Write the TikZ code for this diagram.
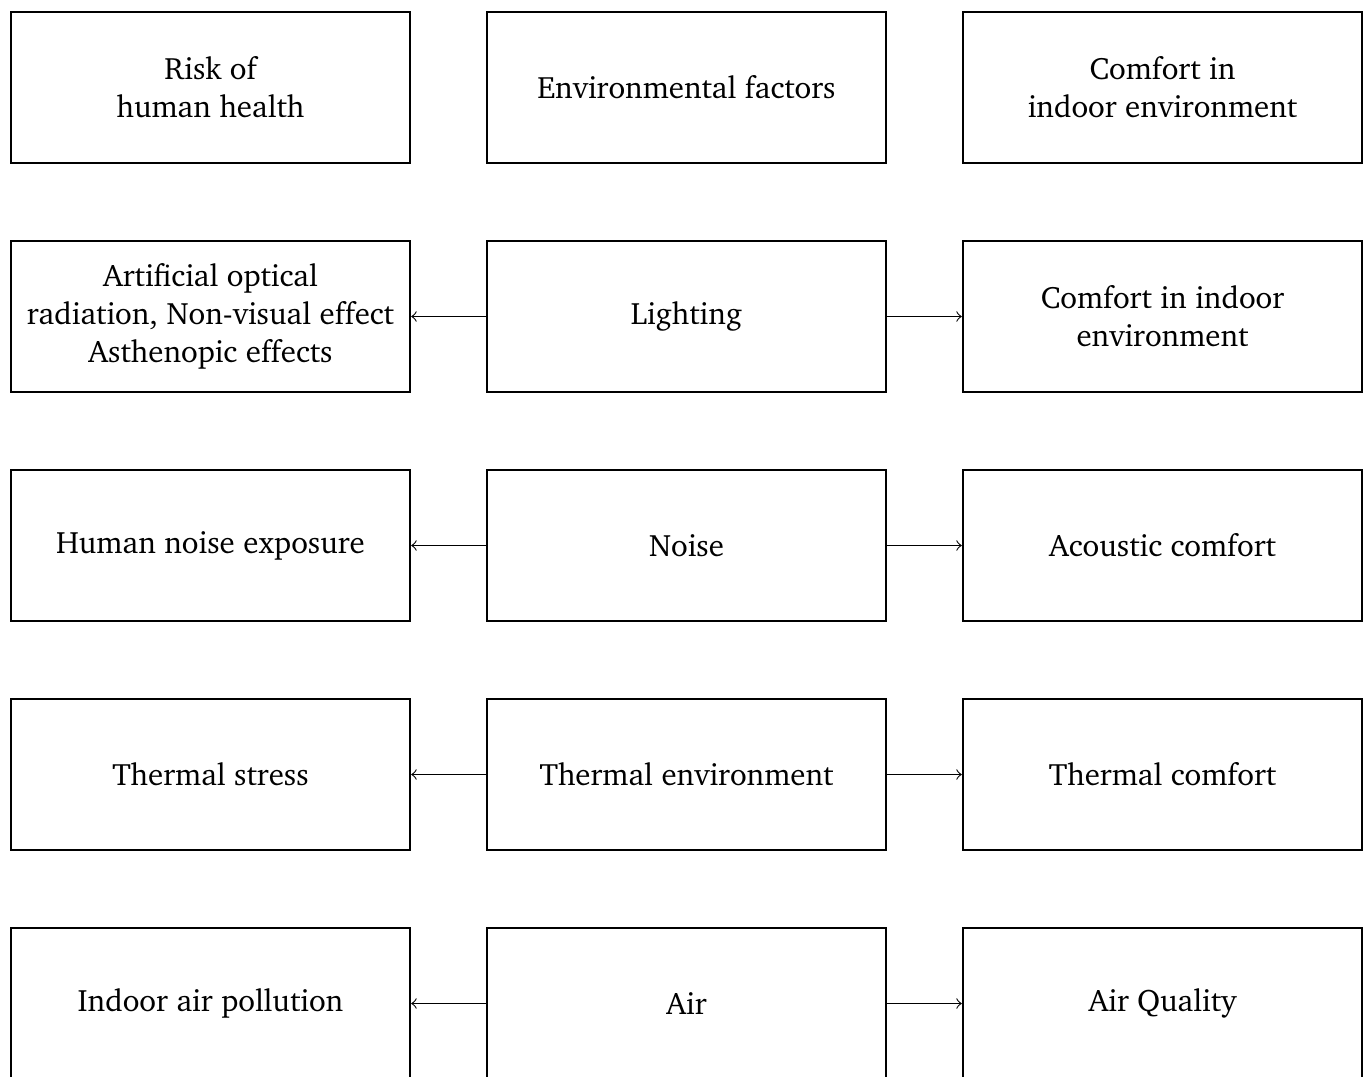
\documentclass[tikz,border=0pt]{standalone}
\usepackage[T1]{fontenc}
\usepackage{charter}
\begin{document}
\begin{tikzpicture}[x=0.3155pt,y=-0.3155pt,
  box/.style={draw, line width=0.75pt, minimum width=125.88pt, minimum height=47.64pt,
    align=center, inner sep=0pt, font=\fontsize{9.76pt}{12pt}\selectfont},
  conn/.style={->, line width=0.35pt}]
  \useasboundingbox (0,0) rectangle (1370,1077);
  % row 1: headings
  \node[box] (h1) at (210.5,87.5)  {Risk of\\human health};
  \node[box] (h2) at (686.5,87.5)  {Environmental factors};
  \node[box] (h3) at (1162.5,87.5) {Comfort in\\indoor environment};
  % row 2: lighting
  \node[box] (l1) at (210.5,316.5)  {Artificial optical\\radiation, Non-visual effect\\Asthenopic effects};
  \node[box] (l2) at (686.5,316.5)  {Lighting};
  \node[box] (l3) at (1162.5,316.5) {Comfort in indoor\\environment};
  % row 3: noise
  \node[box] (n1) at (210.5,545.5)  {Human noise exposure};
  \node[box] (n2) at (686.5,545.5)  {Noise};
  \node[box] (n3) at (1162.5,545.5) {Acoustic comfort};
  % row 4: thermal
  \node[box] (t1) at (210.5,774.5)  {Thermal stress};
  \node[box] (t2) at (686.5,774.5)  {Thermal environment};
  \node[box] (t3) at (1162.5,774.5) {Thermal comfort};
  % row 5: air
  \node[box] (a1) at (210.5,1003.5)  {Indoor air pollution};
  \node[box] (a2) at (686.5,1003.5)  {Air};
  \node[box] (a3) at (1162.5,1003.5) {Air Quality};
  % connectors
  \foreach \r in {l,n,t,a}{
    \draw[conn] (\r2.west) -- (\r1.east);
    \draw[conn] (\r2.east) -- (\r3.west);
  }
\end{tikzpicture}
\end{document}
